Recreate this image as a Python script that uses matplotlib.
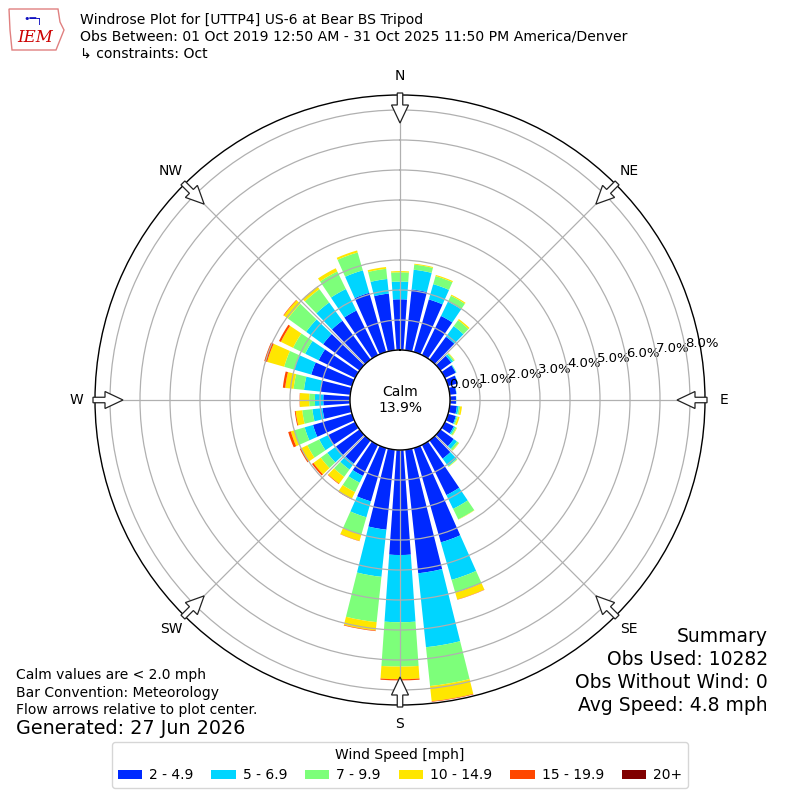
import numpy as np
import matplotlib
matplotlib.use("Agg")
import matplotlib.pyplot as plt
from matplotlib.patches import FancyArrow, Polygon

# ---------------- data ----------------
directions = list(range(0, 360, 10))
speed_labels = ["2 - 4.9", "5 - 6.9", "7 - 9.9", "10 - 14.9", "15 - 19.9", "20+"]

# frequency (%) per direction bin, for each speed bin
freq_2_5 = [1.69, 2.04, 1.82, 1.45, 0.94, 0.45, 0.40, 0.33, 0.22, 0.20, 0.24, 0.27,
            0.33, 0.55, 0.75, 1.86, 3.27, 4.14, 3.50, 2.68, 1.85, 1.15, 0.95, 0.97,
            1.00, 1.35, 0.93, 0.89, 1.00, 1.41, 1.35, 1.50, 1.60, 1.65, 2.05, 1.90]
freq_5_7 = [0.59, 0.66, 0.53, 0.53, 0.44, 0.07, 0.02, 0.01, 0.01, 0.01, 0.06, 0.03,
            0.05, 0.13, 0.30, 0.51, 1.30, 2.48, 2.24, 1.58, 0.55, 0.25, 0.25, 0.36,
            0.33, 0.29, 0.34, 0.28, 0.55, 0.59, 0.50, 0.70, 0.75, 0.80, 0.78, 0.49]
freq_7_10 = [0.31, 0.17, 0.28, 0.22, 0.24, 0.05, 0.01, 0.00, 0.00, 0.00, 0.05, 0.04,
             0.05, 0.07, 0.03, 0.39, 0.44, 1.30, 1.48, 1.52, 0.60, 0.35, 0.30, 0.27,
             0.44, 0.36, 0.34, 0.19, 0.35, 0.35, 0.45, 0.75, 0.55, 0.65, 0.62, 0.34]
freq_10_15 = [0.04, 0.03, 0.04, 0.04, 0.05, 0.02, 0.00, 0.00, 0.00, 0.00, 0.06, 0.06,
              0.02, 0.02, 0.01, 0.01, 0.24, 0.51, 0.42, 0.28, 0.22, 0.25, 0.28, 0.30,
              0.23, 0.12, 0.22, 0.31, 0.28, 0.59, 0.45, 0.17, 0.10, 0.12, 0.07, 0.06]
freq_15_20 = [0.00, 0.00, 0.00, 0.00, 0.00, 0.00, 0.00, 0.00, 0.00, 0.00, 0.00, 0.00,
              0.00, 0.00, 0.00, 0.00, 0.01, 0.02, 0.04, 0.02, 0.01, 0.02, 0.02, 0.06,
              0.05, 0.09, 0.03, 0.01, 0.08, 0.10, 0.07, 0.02, 0.01, 0.00, 0.00, 0.00]
freq_20_up = [0.0] * 36

calm_pct = 13.9
obs_used = 10282
obs_without_wind = 0
avg_speed = 4.8
r_ticks = [0, 1, 2, 3, 4, 5, 6, 7, 8]
compass_labels = ["N", "NE", "E", "SE", "S", "SW", "W", "NW"]
compass_angles = [0, 45, 90, 135, 180, 225, 270, 315]

title_lines = [
    "Windrose Plot for [UTTP4] US-6 at Bear BS Tripod",
    "Obs Between: 01 Oct 2019 12:50 AM - 31 Oct 2025 11:50 PM America/Denver",
    "\u21b3 constraints: Oct",
]
note_lines = [
    "Calm values are < 2.0 mph",
    "Bar Convention: Meteorology",
    "Flow arrows relative to plot center.",
]
generated = "Generated: 27 Jun 2026"

# ---------------- figure ----------------
W = 800.0
fig = plt.figure(figsize=(8, 8), dpi=100)
R_PX = 305.0
ax = fig.add_axes([(400 - R_PX) / W, (400 - R_PX) / W, 2 * R_PX / W, 2 * R_PX / W],
                  projection="polar")
ax.set_theta_zero_location("N")
ax.set_theta_direction(-1)

colors = plt.cm.jet(np.linspace(0, 1, 7))[1:]
series = [freq_2_5, freq_5_7, freq_7_10, freq_10_15, freq_15_20, freq_20_up]
theta = np.deg2rad(directions)
width = np.deg2rad(8.0)
bottom = np.zeros(len(directions))
handles = []
for vals, col, lab in zip(series, colors, speed_labels):
    vals = np.asarray(vals, dtype=float)
    b = ax.bar(theta, vals, width=width, bottom=bottom, color=col,
               label=lab, linewidth=0, align="center")
    handles.append(b)
    bottom = bottom + vals

ax.set_ylim(0, 8.5)
ax.set_rorigin(-1.667)
ax.set_yticks(r_ticks)
ax.set_yticklabels([f"{t:.1f}%" for t in r_ticks], fontsize=9.5)
ax.set_xticks(np.deg2rad(compass_angles))
ax.set_xticklabels([])
ax.set_rlabel_position(80)
ax.grid(True, color="#b0b0b0", linewidth=0.9)
for sp in ax.spines.values():
    sp.set_color("black")
    sp.set_linewidth(1.0)

ax.text(0.5, 0.5, f"Calm\n{calm_pct:.1f}%", transform=ax.transAxes,
        ha="center", va="center", fontsize=10)

# compass labels and inward arrows
for lab, ang in zip(compass_labels, compass_angles):
    a = np.deg2rad(ang)
    s, c = np.sin(a), np.cos(a)
    rl = 324.0 / W
    fig.text(0.5 + rl * s, 0.5 + rl * c, lab, ha="center", va="center", fontsize=10)
    r0 = 307.0 / W
    L = 30.0 / W
    arr = FancyArrow(0.5 + r0 * s, 0.5 + r0 * c, -L * s, -L * c,
                     width=5.5 / W, head_width=17.0 / W, head_length=18.0 / W,
                     length_includes_head=True, facecolor="white", edgecolor="#222222",
                     linewidth=0.9, transform=fig.transFigure, zorder=10)
    fig.add_artist(arr)

# titles
for i, line in enumerate(title_lines):
    fig.text(80 / W, 1 - (20 + 17 * i) / W, line, ha="left", va="center", fontsize=10.1)

# logo (simple)
logo = Polygon([(9 / W, 1 - 9 / W), (58 / W, 1 - 9 / W), (60 / W, 1 - 22 / W),
                (64 / W, 1 - 30 / W), (60 / W, 1 - 40 / W), (56 / W, 1 - 50 / W),
                (12 / W, 1 - 50 / W), (10 / W, 1 - 30 / W)],
               closed=True, fill=False, edgecolor="#e08080", linewidth=1.0,
               transform=fig.transFigure)
fig.add_artist(logo)
fig.text(35 / W, 1 - 38 / W, "IEM", ha="center", va="center", fontsize=12,
         color="#cc0000", family="DejaVu Serif", style="italic")
fig.text(33 / W, 1 - 20 / W, "\u2022\u2501\u2510", ha="center", va="center",
         fontsize=8, color="#1010c0")

# summary
summary = ["Summary", f"Obs Used: {obs_used}", f"Obs Without Wind: {obs_without_wind}",
           f"Avg Speed: {avg_speed:.1f} mph"]
for i, line in enumerate(summary):
    fig.text(768 / W, 1 - (636 + 23.3 * i) / W, line, ha="right", va="center", fontsize=13.5)

for i, line in enumerate(note_lines):
    fig.text(16 / W, 1 - (675 + 17.5 * i) / W, line, ha="left", va="center", fontsize=10)
fig.text(16 / W, 1 - 729 / W, generated, ha="left", va="center", fontsize=13.8)

fig.legend(handles, speed_labels, loc="center", bbox_to_anchor=(0.5, 35 / W),
           ncol=6, title="Wind Speed [mph]", fontsize=10, title_fontsize=10,
           handlelength=1.75, handletextpad=0.5, columnspacing=1.3)

fig.savefig("out.png", dpi=100)
